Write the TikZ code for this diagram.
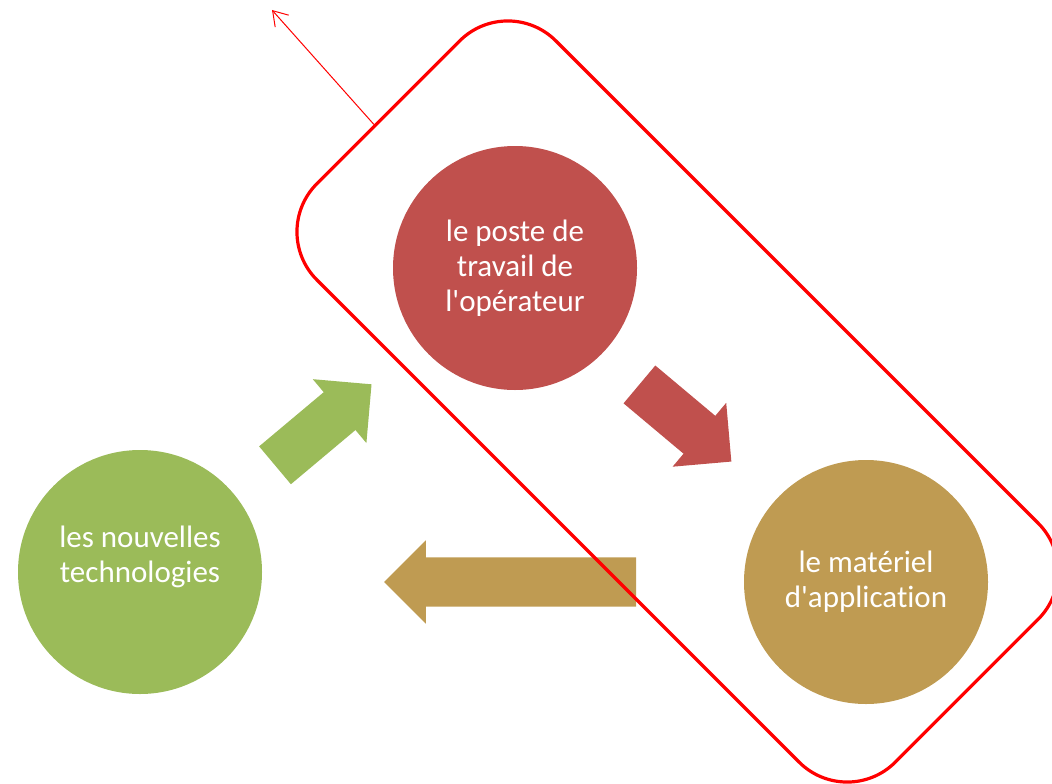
\documentclass[tikz,border=0pt]{standalone}
\usepackage{fontspec}
\setmainfont{Carlito}[Ligatures=NoCommon]
\usetikzlibrary{shapes.arrows,arrows.meta,calc}
\definecolor{poste}{RGB}{192,80,77}
\definecolor{materiel}{RGB}{191,155,82}
\definecolor{techno}{RGB}{155,187,89}

\begin{document}
\begin{tikzpicture}[x=1pt,y=-1pt,
    bubble/.style={circle,minimum size=244pt,inner sep=0pt,text=white,align=center,font=\fontsize{31}{35}\selectfont},
    blockarrow/.style={single arrow,inner xsep=0pt,inner ysep=24.5pt,single arrow head extend=17pt,anchor=tip},
    >={Straight Barb[length=14pt,width=18pt]}]
    \useasboundingbox(0,0)rectangle(1052,784);

    \node[bubble,fill=poste](poste)at(515,268){le poste de\\travail de\\l\textquotesingle opérateur};
    \node[bubble,fill=materiel](materiel)at(866,582){le matériel\\d\textquotesingle application};
    \node[bubble,fill=techno,label={[bubble,minimum size=0pt,yshift=15pt]center:{les nouvelles\\technologies}}](techno)at(140,572){};

    \node[blockarrow,fill=techno,minimum height=126pt,rotate=40](up)at($(techno)!0.618!(poste)$){};
    \node[blockarrow,fill=poste,minimum height=120pt,rotate=-40](down)at($(poste)!0.617!(materiel)$){};
    \node[blockarrow,fill=materiel,minimum height=252pt,rotate=180](back)at($(materiel.west)+(-360,0)$){};

    \node[draw=red,line width=3.2pt,rounded corners=68pt,minimum width=818pt,minimum height=338pt,rotate=-45](frame)at(677.5,401.5){};
    \coordinate(away)at(272,10);
    \draw[->,red,line width=1pt]($(frame.west)!0.11!(frame.south west)$)--(away);
\end{tikzpicture}
\end{document}
